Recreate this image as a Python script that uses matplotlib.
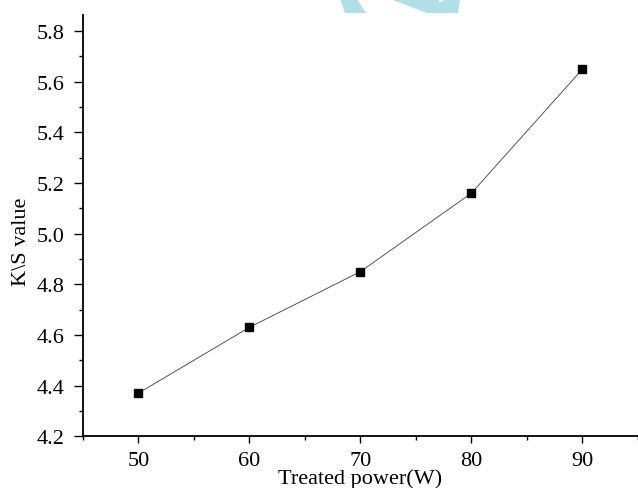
import matplotlib
matplotlib.use("Agg")
import matplotlib.pyplot as plt
from matplotlib.patches import Polygon
from matplotlib.ticker import MultipleLocator

power = [50, 60, 70, 80, 90]
ks_value = [4.37, 4.63, 4.85, 5.16, 5.65]

plt.rcParams['font.family'] = ['Liberation Serif', 'DejaVu Serif']

fig = plt.figure(figsize=(6.38, 4.89), dpi=100)
ax = fig.add_axes([0.130, 0.106, 0.870, 0.861])

ax.plot(power, ks_value, color='#555555', lw=0.7, marker='s', ms=6,
        mfc='black', mec='black', zorder=3)

ax.set_xlim(45, 95)
ax.set_ylim(4.2, 5.863)
ax.xaxis.set_major_locator(MultipleLocator(10))
ax.xaxis.set_minor_locator(MultipleLocator(5))
ax.yaxis.set_major_locator(MultipleLocator(0.2))
ax.yaxis.set_minor_locator(MultipleLocator(0.1))
ax.yaxis.set_major_formatter(matplotlib.ticker.FormatStrFormatter('%.1f'))

for s in ['top', 'right']:
    ax.spines[s].set_visible(False)
for s in ['left', 'bottom']:
    ax.spines[s].set_linewidth(1.3)

ax.tick_params(axis='x', which='major', direction='out', length=5, width=1, labelsize=16, pad=6)
ax.tick_params(axis='y', which='major', direction='out', length=6.5, width=1, labelsize=16, pad=6.5)
ax.tick_params(which='minor', direction='out', length=3, width=1)

ax.set_xlabel('Treated power(W)', fontsize=16)
ax.set_ylabel(r'K\S value', fontsize=16)
ax.xaxis.set_label_coords(0.5, -0.077)
ax.yaxis.set_label_coords(-0.094, 0.463)

# watermark fragment at the top
wm = '#b0e0e6'
fig.patches.append(Polygon([(340, 489), (357, 489), (366, 475), (345, 475)],
                           closed=True, transform=None, fc=wm, ec='none'))
fig.patches.append(Polygon([(390, 489), (437, 489), (440, 486), (447, 489),
                            (460, 489), (458, 475), (427, 475)],
                           closed=True, transform=None, fc=wm, ec='none'))

fig.savefig('out.png', dpi=100)
